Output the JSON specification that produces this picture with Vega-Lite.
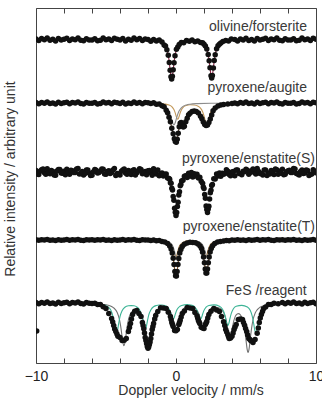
{
"$schema":"https://vega.github.io/schema/vega-lite/v6.json",
"width":280,"height":355,
"autosize":{"type":"none"},
"padding":{"left":36,"top":8,"right":6,"bottom":36},
"background":"white",
"config":{"view":{"stroke":"#444","strokeWidth":1},"axis":{"grid":false}},
"datasets":{
"dots":[
{"v":-10,"i":324.1},{"v":-9.8,"i":322.4},{"v":-9.6,"i":324.4},{"v":-9.4,"i":323.2},{"v":-9.2,"i":324.9},{"v":-9,"i":322.7},{"v":-8.8,"i":323.7},{"v":-8.6,"i":322.1},{"v":-8.4,"i":324.5},{"v":-8.2,"i":323},{"v":-8,"i":323.8},{"v":-7.8,"i":324.7},{"v":-7.6,"i":322.5},{"v":-7.4,"i":324},{"v":-7.2,"i":323.3},{"v":-7,"i":325},{"v":-6.8,"i":322.8},{"v":-6.6,"i":322.2},{"v":-6.4,"i":324.3},{"v":-6.2,"i":323.1},{"v":-6,"i":323.1},{"v":-5.8,"i":324.3},{"v":-5.6,"i":322.2},{"v":-5.4,"i":322.8},{"v":-5.2,"i":325},{"v":-5,"i":323.3},{"v":-4.8,"i":324},{"v":-4.6,"i":322.5},{"v":-4.4,"i":324.7},{"v":-4.2,"i":323.8},{"v":-4,"i":323},{"v":-3.8,"i":324.5},{"v":-3.6,"i":322.1},{"v":-3.4,"i":323.7},{"v":-3.2,"i":322.7},{"v":-3,"i":324.9},{"v":-2.8,"i":323.2},{"v":-2.6,"i":324.4},{"v":-2.4,"i":322.4},{"v":-2.2,"i":324},{"v":-2,"i":323.6},{"v":-1.8,"i":321.7},{"v":-1.6,"i":323.5},{"v":-1.4,"i":321.9},{"v":-1.2,"i":323},
{"v":-1,"i":320.9},{"v":-0.85,"i":318.1},{"v":-0.75,"i":317},{"v":-0.65,"i":313.3},{"v":-0.55,"i":307.7},{"v":-0.48,"i":300.6},{"v":-0.42,"i":292.7},{"v":-0.36,"i":286.3},{"v":-0.31,"i":284},{"v":-0.26,"i":286.7},{"v":-0.2,"i":293.2},{"v":-0.14,"i":300.3},{"v":-0.07,"i":307.3},{"v":0.03,"i":313.8},{"v":0.13,"i":316.1},{"v":0.23,"i":318.5},{"v":0.38,"i":320.6},{"v":0.55,"i":320.3},{"v":0.75,"i":322.4},{"v":0.95,"i":321.7},{"v":1.15,"i":322.9},{"v":1.35,"i":321.3},{"v":1.55,"i":322},{"v":1.75,"i":320.6},{"v":1.9,"i":320.3},{"v":2,"i":318.7},{"v":2.1,"i":317},{"v":2.2,"i":314},{"v":2.3,"i":308.5},{"v":2.37,"i":302.2},{"v":2.43,"i":295.2},{"v":2.5,"i":287.3},{"v":2.55,"i":285},{"v":2.6,"i":287.5},{"v":2.67,"i":295},{"v":2.73,"i":302.4},{"v":2.8,"i":308.3},{"v":2.9,"i":314.2},{"v":3,"i":317.3},{"v":3.1,"i":318.8},{"v":3.2,"i":320},{"v":3.35,"i":321.5},{"v":3.55,"i":322.5},{"v":3.75,"i":321.9},{"v":3.95,"i":323.9},
{"v":4.2,"i":323.6},{"v":4.4,"i":322},{"v":4.6,"i":324.1},{"v":4.8,"i":323},{"v":5,"i":324.7},{"v":5.2,"i":322.6},{"v":5.4,"i":323.6},{"v":5.6,"i":322.1},{"v":5.8,"i":324.5},{"v":6,"i":323},{"v":6.2,"i":323.8},{"v":6.4,"i":324.7},{"v":6.6,"i":322.5},{"v":6.8,"i":324},{"v":7,"i":323.3},{"v":7.2,"i":325},{"v":7.4,"i":322.8},{"v":7.6,"i":322.2},{"v":7.8,"i":324.3},{"v":8,"i":323.1},{"v":8.2,"i":323.1},{"v":8.4,"i":324.3},{"v":8.6,"i":322.2},{"v":8.8,"i":322.8},{"v":9,"i":325},{"v":9.2,"i":323.3},{"v":9.4,"i":324},{"v":9.6,"i":322.5},{"v":9.8,"i":324.7},{"v":10,"i":323.8},

{"v":-10,"i":260.4},{"v":-9.8,"i":259.2},{"v":-9.6,"i":260.6},{"v":-9.4,"i":259.8},{"v":-9.2,"i":261},{"v":-9,"i":259.4},{"v":-8.8,"i":260.1},{"v":-8.6,"i":259},{"v":-8.4,"i":260.7},{"v":-8.2,"i":259.6},{"v":-8,"i":260.2},{"v":-7.8,"i":260.8},{"v":-7.6,"i":259.3},{"v":-7.4,"i":260.4},{"v":-7.2,"i":259.9},{"v":-7,"i":261},{"v":-6.8,"i":259.5},{"v":-6.6,"i":259.1},{"v":-6.4,"i":260.6},{"v":-6.2,"i":259.7},{"v":-6,"i":259.7},{"v":-5.8,"i":260.6},{"v":-5.6,"i":259.1},{"v":-5.4,"i":259.5},{"v":-5.2,"i":261},{"v":-5,"i":259.9},{"v":-4.8,"i":260.4},{"v":-4.6,"i":259.3},{"v":-4.4,"i":260.8},{"v":-4.2,"i":260.2},{"v":-4,"i":259.6},{"v":-3.8,"i":260.7},{"v":-3.6,"i":259},{"v":-3.4,"i":260.1},{"v":-3.2,"i":259.4},{"v":-3,"i":261},{"v":-2.8,"i":259.8},{"v":-2.6,"i":260.6},{"v":-2.4,"i":259.2},{"v":-2.2,"i":260.4},{"v":-2,"i":260.2},{"v":-1.8,"i":259.4},{"v":-1.6,"i":260.3},
{"v":-1.4,"i":258.8},{"v":-1.2,"i":258.9},{"v":-1,"i":257.2},{"v":-0.85,"i":256.3},{"v":-0.7,"i":252.7},{"v":-0.6,"i":250.3},{"v":-0.5,"i":245.8},{"v":-0.4,"i":241.2},{"v":-0.3,"i":234.8},{"v":-0.2,"i":229.3},{"v":-0.12,"i":224.3},{"v":-0.05,"i":221.6},{"v":0.02,"i":220.8},{"v":0.09,"i":223.7},{"v":0.16,"i":229.8},{"v":0.23,"i":236.2},{"v":0.3,"i":239.8},{"v":0.37,"i":240.6},{"v":0.44,"i":237.8},{"v":0.52,"i":236.1},{"v":0.6,"i":236.8},{"v":0.7,"i":241.2},{"v":0.8,"i":244.8},{"v":0.9,"i":248.2},{"v":1,"i":249.8},{"v":1.15,"i":251.6},{"v":1.3,"i":251.9},{"v":1.45,"i":251.4},{"v":1.6,"i":250.1},{"v":1.75,"i":246.8},{"v":1.85,"i":244.2},{"v":1.95,"i":240.9},{"v":2.05,"i":238.6},{"v":2.15,"i":237.4},{"v":2.25,"i":238.1},{"v":2.35,"i":240.4},{"v":2.45,"i":244.1},{"v":2.55,"i":247.9},{"v":2.65,"i":252.2},{"v":2.8,"i":254.9},{"v":3,"i":257.1},{"v":3.2,"i":257.9},{"v":3.4,"i":258.6},{"v":3.7,"i":259.1},{"v":4,"i":259.5},
{"v":4.2,"i":260},{"v":4.4,"i":259.2},{"v":4.6,"i":260.6},{"v":4.8,"i":259.8},{"v":5,"i":261},{"v":5.2,"i":259.4},{"v":5.4,"i":260.1},{"v":5.6,"i":259},{"v":5.8,"i":260.7},{"v":6,"i":259.6},{"v":6.2,"i":260.2},{"v":6.4,"i":260.8},{"v":6.6,"i":259.3},{"v":6.8,"i":260.4},{"v":7,"i":259.9},{"v":7.2,"i":261},{"v":7.4,"i":259.5},{"v":7.6,"i":259.1},{"v":7.8,"i":260.6},{"v":8,"i":259.7},{"v":8.2,"i":259.7},{"v":8.4,"i":260.6},{"v":8.6,"i":259.1},{"v":8.8,"i":259.5},{"v":9,"i":261},{"v":9.2,"i":259.9},{"v":9.4,"i":260.4},{"v":9.6,"i":259.3},{"v":9.8,"i":260.8},{"v":10,"i":260.2},

{"v":-10,"i":192.5},{"v":-9.8,"i":188.4},{"v":-9.6,"i":193.2},{"v":-9.4,"i":190.2},{"v":-9.2,"i":194.2},{"v":-9,"i":189.2},{"v":-8.8,"i":191.5},{"v":-8.6,"i":187.7},{"v":-8.4,"i":193.4},{"v":-8.2,"i":189.9},{"v":-8,"i":191.8},{"v":-7.8,"i":193.8},{"v":-7.6,"i":188.7},{"v":-7.4,"i":192.2},{"v":-7.2,"i":190.5},{"v":-7,"i":194.5},{"v":-6.8,"i":189.4},{"v":-6.6,"i":188},{"v":-6.4,"i":192.9},{"v":-6.2,"i":190.1},
{"v":-6,"i":187.7},{"v":-5.8,"i":193.4},{"v":-5.6,"i":189.9},{"v":-5.4,"i":191.8},{"v":-5.2,"i":193.8},{"v":-5,"i":188.7},{"v":-4.8,"i":192.2},{"v":-4.6,"i":190.5},{"v":-4.4,"i":194.5},{"v":-4.2,"i":189.4},{"v":-4,"i":188},{"v":-3.8,"i":192.9},{"v":-3.6,"i":190.1},{"v":-3.4,"i":192.5},{"v":-3.2,"i":188.4},{"v":-3,"i":193.2},{"v":-2.8,"i":190.2},{"v":-2.6,"i":194.2},{"v":-2.4,"i":189.2},{"v":-2.2,"i":191.5},{"v":-2,"i":192.2},{"v":-1.8,"i":190.3},{"v":-1.6,"i":194.2},{"v":-1.4,"i":188.9},{"v":-1.2,"i":187.2},
{"v":-9.9,"i":189.1},{"v":-9.7,"i":191.7},{"v":-9.5,"i":193.9},{"v":-9.3,"i":188.8},{"v":-9.1,"i":190.6},{"v":-8.9,"i":192.6},{"v":-8.7,"i":187.9},{"v":-8.5,"i":191.9},{"v":-8.3,"i":193.5},{"v":-8.1,"i":189.7},{"v":-7.9,"i":188.3},{"v":-7.7,"i":191.3},{"v":-7.5,"i":192.8},{"v":-7.3,"i":190.4},{"v":-7.1,"i":194},{"v":-6.9,"i":189},{"v":-6.7,"i":191.6},{"v":-6.5,"i":189.5},{"v":-6.3,"i":193.1},{"v":-6.1,"i":187.6},
{"v":-5.9,"i":191.3},{"v":-5.7,"i":192.8},{"v":-5.5,"i":190.4},{"v":-5.3,"i":194},{"v":-5.1,"i":189},{"v":-4.9,"i":191.6},{"v":-4.7,"i":189.5},{"v":-4.5,"i":193.1},{"v":-4.3,"i":187.6},{"v":-4.1,"i":189.1},{"v":-3.9,"i":191.7},{"v":-3.7,"i":193.9},{"v":-3.5,"i":188.8},{"v":-3.3,"i":190.6},{"v":-3.1,"i":192.6},{"v":-2.9,"i":187.9},{"v":-2.7,"i":191.9},{"v":-2.5,"i":193.5},{"v":-2.3,"i":189.7},{"v":-2.1,"i":188.3},{"v":-1.9,"i":192.6},{"v":-1.7,"i":187.7},{"v":-1.5,"i":191.5},{"v":-1.3,"i":192.9},{"v":-1.1,"i":188.7},
{"v":-1,"i":189.9},{"v":-0.9,"i":187.1},{"v":-0.8,"i":188.8},{"v":-0.7,"i":189.1},{"v":-0.6,"i":184.9},{"v":-0.5,"i":184.5},{"v":-0.45,"i":183.7},{"v":-0.4,"i":180.3},{"v":-0.35,"i":179.7},{"v":-0.3,"i":174.8},{"v":-0.25,"i":172.9},{"v":-0.2,"i":166.6},{"v":-0.15,"i":162.7},{"v":-0.1,"i":154.8},{"v":-0.05,"i":150.8},{"v":0,"i":147.5},{"v":0.05,"i":150.5},{"v":0.1,"i":156.6},{"v":0.15,"i":160.7},{"v":0.2,"i":167.9},{"v":0.25,"i":171.3},{"v":0.3,"i":177.3},{"v":0.35,"i":178.4},{"v":0.4,"i":181.9},{"v":0.5,"i":182.7},{"v":0.6,"i":186.7},{"v":0.7,"i":187.3},{"v":0.8,"i":185.6},{"v":0.9,"i":189.8},{"v":1,"i":187.1},{"v":1.1,"i":190.5},{"v":1.2,"i":186.1},{"v":1.3,"i":189.3},{"v":1.4,"i":186.9},{"v":1.5,"i":188.7},{"v":1.6,"i":184.9},{"v":1.7,"i":185.7},{"v":1.8,"i":181.7},{"v":1.9,"i":179.8},{"v":1.95,"i":176},{"v":2,"i":174.4},{"v":2.05,"i":168.6},{"v":2.1,"i":164.7},{"v":2.15,"i":157},{"v":2.2,"i":153.5},{"v":2.25,"i":150.6},{"v":2.3,"i":153.9},{"v":2.35,"i":156.7},{"v":2.4,"i":164.1},{"v":2.45,"i":170.3},{"v":2.5,"i":172.7},{"v":2.55,"i":177.6},{"v":2.6,"i":178.4},{"v":2.7,"i":184.3},{"v":2.8,"i":183.9},{"v":2.9,"i":188.9},{"v":3,"i":186.9},{"v":3.1,"i":189.9},{"v":3.2,"i":186.8},{"v":3.3,"i":189.8},
{"v":3.4,"i":188.8},{"v":3.6,"i":193.2},{"v":3.8,"i":188.4},{"v":4,"i":190.9},{"v":4.2,"i":187.2},{"v":4.4,"i":193},{"v":4.6,"i":189.6},{"v":4.8,"i":191.8},{"v":5,"i":193.8},{"v":5.2,"i":188.7},{"v":5.4,"i":192.2},{"v":5.6,"i":190.5},{"v":5.8,"i":194.5},{"v":6,"i":189.4},{"v":6.2,"i":188},{"v":6.4,"i":192.9},{"v":6.6,"i":190.1},{"v":6.8,"i":192.5},{"v":7,"i":188.4},{"v":7.2,"i":193.2},{"v":7.4,"i":191.8},{"v":7.6,"i":193.8},{"v":7.8,"i":188.7},{"v":8,"i":192.2},{"v":8.2,"i":190.5},{"v":8.4,"i":194.5},{"v":8.6,"i":189.4},{"v":8.8,"i":188},{"v":9,"i":192.9},{"v":9.2,"i":190.1},{"v":9.4,"i":192.5},{"v":9.6,"i":188.4},{"v":9.8,"i":193.2},{"v":10,"i":190.2},
{"v":3.5,"i":189.4},{"v":3.7,"i":191.7},{"v":3.9,"i":187.2},{"v":4.1,"i":191.4},{"v":4.3,"i":193.1},{"v":4.5,"i":189.4},{"v":4.7,"i":188.3},{"v":4.9,"i":191.3},{"v":5.1,"i":192.8},{"v":5.3,"i":190.4},{"v":5.5,"i":194},{"v":5.7,"i":189},{"v":5.9,"i":191.6},{"v":6.1,"i":189.5},{"v":6.3,"i":193.1},{"v":6.5,"i":187.6},{"v":6.7,"i":189.1},{"v":6.9,"i":191.7},{"v":7.1,"i":193.9},{"v":7.3,"i":188.8},{"v":7.5,"i":189.7},{"v":7.7,"i":188.3},{"v":7.9,"i":191.3},{"v":8.1,"i":192.8},{"v":8.3,"i":190.4},{"v":8.5,"i":194},{"v":8.7,"i":189},{"v":8.9,"i":191.6},{"v":9.1,"i":189.5},{"v":9.3,"i":193.1},{"v":9.5,"i":187.6},{"v":9.7,"i":189.1},{"v":9.9,"i":191.7},

{"v":-10,"i":123.2},{"v":-9.8,"i":122.7},{"v":-9.6,"i":123.3},{"v":-9.4,"i":122.9},{"v":-9.2,"i":123.4},{"v":-9,"i":122.8},{"v":-8.8,"i":123.1},{"v":-8.6,"i":122.6},{"v":-8.4,"i":123.3},{"v":-8.2,"i":122.8},{"v":-8,"i":123.1},{"v":-7.8,"i":123.4},{"v":-7.6,"i":122.7},{"v":-7.4,"i":123.2},{"v":-7.2,"i":122.9},{"v":-7,"i":123.5},{"v":-6.8,"i":122.8},{"v":-6.6,"i":122.6},{"v":-6.4,"i":123.2},{"v":-6.2,"i":122.9},{"v":-6,"i":123.2},{"v":-5.8,"i":122.7},{"v":-5.6,"i":123.3},{"v":-5.4,"i":122.9},{"v":-5.2,"i":123.4},{"v":-5,"i":122.8},{"v":-4.8,"i":123.1},{"v":-4.6,"i":122.6},{"v":-4.4,"i":123.3},{"v":-4.2,"i":122.8},{"v":-4,"i":123.1},{"v":-3.8,"i":123.4},{"v":-3.6,"i":122.7},{"v":-3.4,"i":123.2},{"v":-3.2,"i":122.9},{"v":-3,"i":123.5},{"v":-2.8,"i":122.8},{"v":-2.6,"i":122.6},{"v":-2.4,"i":123.2},{"v":-2.2,"i":122.9},{"v":-2,"i":123},{"v":-1.8,"i":122.5},{"v":-1.6,"i":122.9},{"v":-1.4,"i":122.3},{"v":-1.2,"i":122.4},
{"v":-1,"i":121.5},{"v":-0.8,"i":120.9},{"v":-0.6,"i":119.4},{"v":-0.45,"i":117},{"v":-0.35,"i":114},{"v":-0.27,"i":110.1},{"v":-0.2,"i":104.7},{"v":-0.14,"i":98.5},{"v":-0.08,"i":91.5},{"v":-0.03,"i":87.3},{"v":0.03,"i":87},{"v":0.08,"i":91.5},{"v":0.14,"i":98.5},{"v":0.2,"i":104.6},{"v":0.27,"i":110},{"v":0.35,"i":113.6},{"v":0.45,"i":116.5},{"v":0.6,"i":118.8},{"v":0.8,"i":120.1},{"v":1,"i":120.7},{"v":1.2,"i":120.6},{"v":1.4,"i":120.2},{"v":1.57,"i":119},{"v":1.72,"i":117},{"v":1.82,"i":114.4},{"v":1.9,"i":110.8},{"v":1.97,"i":106},{"v":2.03,"i":100.2},{"v":2.09,"i":93.9},{"v":2.14,"i":90},{"v":2.2,"i":90},{"v":2.25,"i":93.9},{"v":2.31,"i":100.3},{"v":2.37,"i":106.1},{"v":2.44,"i":110.9},{"v":2.52,"i":114.6},{"v":2.62,"i":117.3},{"v":2.77,"i":119.5},{"v":2.97,"i":120.9},{"v":3.17,"i":121.6},{"v":3.4,"i":122},
{"v":3.6,"i":122.6},{"v":3.8,"i":122.3},{"v":4,"i":123},{"v":4.2,"i":122.7},{"v":4.4,"i":123.2},{"v":4.6,"i":122.8},{"v":4.8,"i":123.1},{"v":5,"i":122.6},{"v":5.2,"i":123.3},{"v":5.4,"i":122.8},{"v":5.6,"i":123.1},{"v":5.8,"i":123.4},{"v":6,"i":122.7},{"v":6.2,"i":123.2},{"v":6.4,"i":122.9},{"v":6.6,"i":123.5},{"v":6.8,"i":122.8},{"v":7,"i":122.6},{"v":7.2,"i":123.2},{"v":7.4,"i":122.9},{"v":7.6,"i":123.2},{"v":7.8,"i":122.7},{"v":8,"i":123.3},{"v":8.2,"i":122.9},{"v":8.4,"i":123.4},{"v":8.6,"i":122.8},{"v":8.8,"i":123.1},{"v":9,"i":122.6},{"v":9.2,"i":123.3},{"v":9.4,"i":122.8},{"v":9.6,"i":123.1},{"v":9.8,"i":123.4},{"v":10,"i":122.7},

{"v":-9.95,"i":32},
{"v":-10,"i":60.4},{"v":-9.8,"i":59.2},{"v":-9.6,"i":60.6},{"v":-9.4,"i":59.8},{"v":-9.2,"i":61},{"v":-9,"i":59.4},{"v":-8.8,"i":60.1},{"v":-8.6,"i":59},{"v":-8.4,"i":60.7},{"v":-8.2,"i":59.6},{"v":-8,"i":60.2},{"v":-7.8,"i":60.8},{"v":-7.6,"i":59.3},{"v":-7.4,"i":60.4},{"v":-7.2,"i":59.9},{"v":-7,"i":61},{"v":-6.8,"i":59.5},{"v":-6.6,"i":59.1},{"v":-6.4,"i":60.6},{"v":-6.2,"i":59.7},{"v":-6,"i":59.6},
{"v":-5.8,"i":59.8},{"v":-5.6,"i":58.6},{"v":-5.4,"i":58.5},{"v":-5.2,"i":56.2},{"v":-5,"i":54.6},{"v":-4.8,"i":49.5},{"v":-4.6,"i":44.4},{"v":-4.52,"i":41},{"v":-4.45,"i":37.4},{"v":-4.38,"i":34},{"v":-4.3,"i":31.5},{"v":-4.22,"i":29},{"v":-4.15,"i":26.7},{"v":-4,"i":25.6},{"v":-3.85,"i":22.5},{"v":-3.7,"i":22.8},{"v":-3.55,"i":24.4},{"v":-3.4,"i":31.5},{"v":-3.32,"i":35.5},{"v":-3.25,"i":39.6},{"v":-3.18,"i":44},{"v":-3.1,"i":48.6},{"v":-2.95,"i":51.7},{"v":-2.8,"i":52.5},{"v":-2.65,"i":49.4},{"v":-2.5,"i":46.4},{"v":-2.4,"i":40.5},{"v":-2.35,"i":37.5},{"v":-2.3,"i":34.3},{"v":-2.25,"i":30},{"v":-2.2,"i":25.6},{"v":-2.15,"i":22.5},{"v":-2.1,"i":19.5},{"v":-2.05,"i":16.5},{"v":-2,"i":14.7},{"v":-1.95,"i":16},{"v":-1.9,"i":18.4},{"v":-1.85,"i":21},{"v":-1.8,"i":24.5},{"v":-1.75,"i":29},{"v":-1.7,"i":33.6},{"v":-1.65,"i":36.5},{"v":-1.6,"i":39.6},{"v":-1.52,"i":44},{"v":-1.45,"i":47.5},{"v":-1.3,"i":51.4},{"v":-1.1,"i":55.3},{"v":-0.9,"i":55},{"v":-0.7,"i":54.6},{"v":-0.55,"i":50.7},{"v":-0.4,"i":46.4},{"v":-0.35,"i":43.5},{"v":-0.3,"i":40.5},{"v":-0.25,"i":38.5},{"v":-0.2,"i":36.5},{"v":-0.1,"i":32.6},{"v":0,"i":32.3},{"v":0.1,"i":33.5},{"v":0.2,"i":38.4},{"v":0.25,"i":40.5},{"v":0.3,"i":42.7},{"v":0.37,"i":46},{"v":0.45,"i":49.6},{"v":0.6,"i":52.1},{"v":0.8,"i":55.5},{"v":1,"i":54.9},{"v":1.2,"i":54.4},{"v":1.35,"i":50.5},{"v":1.5,"i":47.3},{"v":1.55,"i":45},{"v":1.6,"i":42.6},{"v":1.65,"i":41},{"v":1.7,"i":39.5},{"v":1.8,"i":35.7},{"v":1.9,"i":34.9},{"v":2,"i":34.5},{"v":2.1,"i":38.6},{"v":2.15,"i":40},{"v":2.2,"i":41.6},{"v":2.27,"i":45},{"v":2.35,"i":48.5},{"v":2.5,"i":51.7},{"v":2.7,"i":54.4},{"v":2.9,"i":52.9},{"v":3.1,"i":51.5},{"v":3.25,"i":46.6},{"v":3.4,"i":41.3},{"v":3.48,"i":37.5},{"v":3.55,"i":33.5},{"v":3.62,"i":31},{"v":3.7,"i":28.6},{"v":3.75,"i":26.5},{"v":3.8,"i":24.6},{"v":3.9,"i":25},{"v":4,"i":26.7},{"v":4.08,"i":30},{"v":4.15,"i":33.4},{"v":4.22,"i":36},{"v":4.3,"i":38.5},{"v":4.45,"i":43.6},{"v":4.6,"i":44.1},{"v":4.75,"i":43.5},{"v":4.82,"i":40.5},{"v":4.9,"i":37.7},{"v":4.97,"i":34.5},{"v":5.05,"i":31.4},{"v":5.12,"i":28},{"v":5.2,"i":24.5},{"v":5.28,"i":23.5},{"v":5.35,"i":22.3},{"v":5.5,"i":20.6},{"v":5.65,"i":23.5},{"v":5.8,"i":29.7},{"v":5.88,"i":35},{"v":5.95,"i":40.6},{"v":6.02,"i":45},{"v":6.1,"i":48.6},{"v":6.18,"i":51.5},{"v":6.25,"i":54.3},{"v":6.4,"i":56},{"v":6.6,"i":58.4},{"v":6.8,"i":58.5},{"v":7,"i":59.8},{"v":7.3,"i":59.3},
{"v":7.6,"i":60.4},{"v":7.8,"i":59.2},{"v":8,"i":60.6},{"v":8.2,"i":59.8},{"v":8.4,"i":61},{"v":8.6,"i":59.4},{"v":8.8,"i":60.1},{"v":9,"i":59},{"v":9.2,"i":60.7},{"v":9.4,"i":59.6},{"v":9.6,"i":60.2},{"v":9.8,"i":60.8},{"v":10,"i":59.3}
],
"fits":[
{"k":"ol","v":-10,"i":323.5},{"k":"ol","v":-2,"i":323},{"k":"ol","v":-1.2,"i":321.6},{"k":"ol","v":-1,"i":320.4},{"k":"ol","v":-0.85,"i":318.7},{"k":"ol","v":-0.75,"i":316.7},{"k":"ol","v":-0.65,"i":313.3},{"k":"ol","v":-0.55,"i":307.3},{"k":"ol","v":-0.48,"i":300.6},{"k":"ol","v":-0.42,"i":293.2},{"k":"ol","v":-0.36,"i":286.3},{"k":"ol","v":-0.31,"i":284},{"k":"ol","v":-0.26,"i":286.3},{"k":"ol","v":-0.2,"i":293.2},{"k":"ol","v":-0.14,"i":300.6},{"k":"ol","v":-0.07,"i":307.3},{"k":"ol","v":0.03,"i":313.3},{"k":"ol","v":0.13,"i":316.7},{"k":"ol","v":0.23,"i":318.7},{"k":"ol","v":0.38,"i":320.1},{"k":"ol","v":0.55,"i":321.1},{"k":"ol","v":0.75,"i":321.7},{"k":"ol","v":0.95,"i":321.9},{"k":"ol","v":1.15,"i":322},{"k":"ol","v":1.35,"i":321.9},{"k":"ol","v":1.55,"i":321.6},{"k":"ol","v":1.75,"i":320.9},{"k":"ol","v":1.9,"i":319.9},{"k":"ol","v":2,"i":318.7},{"k":"ol","v":2.1,"i":316.9},{"k":"ol","v":2.2,"i":313.7},{"k":"ol","v":2.3,"i":308.5},{"k":"ol","v":2.37,"i":302.2},{"k":"ol","v":2.43,"i":295.2},{"k":"ol","v":2.5,"i":287.3},{"k":"ol","v":2.55,"i":285},{"k":"ol","v":2.6,"i":287.3},{"k":"ol","v":2.67,"i":295.2},{"k":"ol","v":2.73,"i":302.2},{"k":"ol","v":2.8,"i":308.5},{"k":"ol","v":2.9,"i":314},{"k":"ol","v":3,"i":317.2},{"k":"ol","v":3.1,"i":318.9},{"k":"ol","v":3.2,"i":320.2},{"k":"ol","v":3.35,"i":321.2},{"k":"ol","v":3.55,"i":322},{"k":"ol","v":3.75,"i":322.5},{"k":"ol","v":3.95,"i":322.7},{"k":"ol","v":5,"i":323.2},{"k":"ol","v":10,"i":323.5},

{"k":"au","v":-10,"i":260},{"k":"au","v":-1.6,"i":259.5},{"k":"au","v":-1.4,"i":259},{"k":"au","v":-1.2,"i":258.5},{"k":"au","v":-1,"i":257.5},{"k":"au","v":-0.85,"i":256},{"k":"au","v":-0.7,"i":253},{"k":"au","v":-0.6,"i":250},{"k":"au","v":-0.5,"i":246},{"k":"au","v":-0.4,"i":241},{"k":"au","v":-0.3,"i":235},{"k":"au","v":-0.2,"i":229},{"k":"au","v":-0.12,"i":224.5},{"k":"au","v":-0.05,"i":221.5},{"k":"au","v":0.02,"i":221},{"k":"au","v":0.09,"i":223.5},{"k":"au","v":0.16,"i":230},{"k":"au","v":0.23,"i":236},{"k":"au","v":0.3,"i":240},{"k":"au","v":0.37,"i":240.5},{"k":"au","v":0.44,"i":238},{"k":"au","v":0.52,"i":236},{"k":"au","v":0.6,"i":237},{"k":"au","v":0.7,"i":241},{"k":"au","v":0.8,"i":245},{"k":"au","v":0.9,"i":248},{"k":"au","v":1,"i":250},{"k":"au","v":1.15,"i":251.5},{"k":"au","v":1.3,"i":252},{"k":"au","v":1.45,"i":251.5},{"k":"au","v":1.6,"i":250},{"k":"au","v":1.75,"i":247},{"k":"au","v":1.85,"i":244},{"k":"au","v":1.95,"i":241},{"k":"au","v":2.05,"i":238.5},{"k":"au","v":2.15,"i":237.5},{"k":"au","v":2.25,"i":238},{"k":"au","v":2.35,"i":240.5},{"k":"au","v":2.45,"i":244},{"k":"au","v":2.55,"i":248},{"k":"au","v":2.65,"i":252},{"k":"au","v":2.8,"i":255},{"k":"au","v":3,"i":257},{"k":"au","v":3.2,"i":258},{"k":"au","v":3.4,"i":258.4},{"k":"au","v":3.7,"i":258.9},{"k":"au","v":4,"i":259.3},{"k":"au","v":5,"i":259.7},{"k":"au","v":10,"i":260},

{"k":"aA","v":-10,"i":260},{"k":"aA","v":-2,"i":259.8},{"k":"aA","v":-1.2,"i":259.5},{"k":"aA","v":-0.8,"i":259},{"k":"aA","v":-0.5,"i":258},{"k":"aA","v":-0.3,"i":256.4},{"k":"aA","v":-0.15,"i":253.4},{"k":"aA","v":-0.05,"i":249.8},{"k":"aA","v":0.02,"i":246.5},{"k":"aA","v":0.07,"i":244.6},{"k":"aA","v":0.12,"i":243.8},{"k":"aA","v":0.17,"i":244.6},{"k":"aA","v":0.22,"i":246.5},{"k":"aA","v":0.29,"i":249.7},{"k":"aA","v":0.39,"i":253.3},{"k":"aA","v":0.54,"i":256.1},{"k":"aA","v":0.74,"i":257.6},{"k":"aA","v":1,"i":258.2},{"k":"aA","v":1.3,"i":258},{"k":"aA","v":1.55,"i":256.9},{"k":"aA","v":1.75,"i":254.8},{"k":"aA","v":1.9,"i":251.2},{"k":"aA","v":2,"i":247},{"k":"aA","v":2.1,"i":241.7},{"k":"aA","v":2.2,"i":238.8},{"k":"aA","v":2.3,"i":241.7},{"k":"aA","v":2.4,"i":247},{"k":"aA","v":2.5,"i":251.2},{"k":"aA","v":2.65,"i":254.9},{"k":"aA","v":2.85,"i":257.2},{"k":"aA","v":3.1,"i":258.4},{"k":"aA","v":3.5,"i":259.2},{"k":"aA","v":4.5,"i":259.7},{"k":"aA","v":10,"i":260},

{"k":"aB","v":-10,"i":260},{"k":"aB","v":-2,"i":259.5},{"k":"aB","v":-1.2,"i":258.5},{"k":"aB","v":-0.8,"i":256.6},{"k":"aB","v":-0.55,"i":252.8},{"k":"aB","v":-0.4,"i":247.8},{"k":"aB","v":-0.25,"i":240.5},{"k":"aB","v":-0.15,"i":238},{"k":"aB","v":-0.05,"i":240.5},{"k":"aB","v":0.07,"i":246.4},{"k":"aB","v":0.2,"i":251.4},{"k":"aB","v":0.35,"i":254.7},{"k":"aB","v":0.5,"i":256.6},{"k":"aB","v":0.75,"i":258.1},{"k":"aB","v":1,"i":258.8},{"k":"aB","v":1.5,"i":259.4},{"k":"aB","v":2.5,"i":259.8},{"k":"aB","v":10,"i":260},

{"k":"tT","v":-10,"i":123},{"k":"tT","v":-1.2,"i":122.3},{"k":"tT","v":-1,"i":121.5},{"k":"tT","v":-0.8,"i":120.8},{"k":"tT","v":-0.6,"i":119.35},{"k":"tT","v":-0.45,"i":117},{"k":"tT","v":-0.35,"i":114},{"k":"tT","v":-0.27,"i":110.1},{"k":"tT","v":-0.2,"i":104.7},{"k":"tT","v":-0.14,"i":98.5},{"k":"tT","v":-0.08,"i":91.5},{"k":"tT","v":-0.03,"i":87.3},{"k":"tT","v":0.03,"i":87.3},{"k":"tT","v":0.08,"i":91.5},{"k":"tT","v":0.14,"i":98.5},{"k":"tT","v":0.2,"i":104.7},{"k":"tT","v":0.27,"i":110.1},{"k":"tT","v":0.35,"i":113.6},{"k":"tT","v":0.45,"i":116.5},{"k":"tT","v":0.6,"i":118.75},{"k":"tT","v":0.8,"i":120.1},{"k":"tT","v":1,"i":120.65},{"k":"tT","v":1.2,"i":120.6},{"k":"tT","v":1.4,"i":120.15},{"k":"tT","v":1.57,"i":119.05},{"k":"tT","v":1.72,"i":117},{"k":"tT","v":1.82,"i":114.4},{"k":"tT","v":1.9,"i":110.8},{"k":"tT","v":1.97,"i":106},{"k":"tT","v":2.03,"i":100.2},{"k":"tT","v":2.09,"i":93.9},{"k":"tT","v":2.14,"i":90},{"k":"tT","v":2.2,"i":90},{"k":"tT","v":2.25,"i":93.9},{"k":"tT","v":2.31,"i":100.3},{"k":"tT","v":2.37,"i":106.1},{"k":"tT","v":2.44,"i":110.9},{"k":"tT","v":2.52,"i":114.6},{"k":"tT","v":2.62,"i":117.3},{"k":"tT","v":2.77,"i":119.5},{"k":"tT","v":2.97,"i":120.9},{"k":"tT","v":3.17,"i":121.6},{"k":"tT","v":3.4,"i":122},{"k":"tT","v":4,"i":122.6},{"k":"tT","v":10,"i":123},

{"k":"tA","v":-10,"i":123},{"k":"tA","v":-1,"i":122.2},{"k":"tA","v":-0.6,"i":120.85},{"k":"tA","v":-0.4,"i":118.5},{"k":"tA","v":-0.29,"i":115.6},{"k":"tA","v":-0.19,"i":110.8},{"k":"tA","v":-0.09,"i":105.1},{"k":"tA","v":-0.04,"i":104},{"k":"tA","v":0.01,"i":105.1},{"k":"tA","v":0.11,"i":110.8},{"k":"tA","v":0.21,"i":115.6},{"k":"tA","v":0.32,"i":118.5},{"k":"tA","v":0.52,"i":120.85},{"k":"tA","v":0.9,"i":122.2},{"k":"tA","v":1.4,"i":121.6},{"k":"tA","v":1.57,"i":120.8},{"k":"tA","v":1.77,"i":119},{"k":"tA","v":1.88,"i":116.4},{"k":"tA","v":1.98,"i":112.1},{"k":"tA","v":2.08,"i":107},{"k":"tA","v":2.13,"i":106},{"k":"tA","v":2.18,"i":107},{"k":"tA","v":2.28,"i":112.1},{"k":"tA","v":2.38,"i":116.4},{"k":"tA","v":2.49,"i":119},{"k":"tA","v":2.69,"i":121.1},{"k":"tA","v":3.1,"i":122.3},{"k":"tA","v":4,"i":122.8},{"k":"tA","v":10,"i":123},

{"k":"tB","v":-10,"i":123},{"k":"tB","v":-0.9,"i":122.3},{"k":"tB","v":-0.5,"i":120.9},{"k":"tB","v":-0.3,"i":118.6},{"k":"tB","v":-0.2,"i":116},{"k":"tB","v":-0.1,"i":111.5},{"k":"tB","v":0,"i":106.1},{"k":"tB","v":0.05,"i":105},{"k":"tB","v":0.1,"i":106.1},{"k":"tB","v":0.2,"i":111.5},{"k":"tB","v":0.3,"i":116},{"k":"tB","v":0.4,"i":118.6},{"k":"tB","v":0.6,"i":120.9},{"k":"tB","v":1,"i":121.9},{"k":"tB","v":1.5,"i":121.6},{"k":"tB","v":1.67,"i":120.9},{"k":"tB","v":1.87,"i":118.8},{"k":"tB","v":1.97,"i":116.4},{"k":"tB","v":2.07,"i":112.1},{"k":"tB","v":2.17,"i":107},{"k":"tB","v":2.22,"i":106},{"k":"tB","v":2.27,"i":107},{"k":"tB","v":2.37,"i":112.1},{"k":"tB","v":2.47,"i":116.4},{"k":"tB","v":2.57,"i":118.8},{"k":"tB","v":2.77,"i":121},{"k":"tB","v":3.2,"i":122.3},{"k":"tB","v":4,"i":122.8},{"k":"tB","v":10,"i":123},

{"k":"fG","v":-10,"i":59.9},{"k":"fG","v":-6,"i":59.2},{"k":"fG","v":-5,"i":58.2},{"k":"fG","v":-4.6,"i":56.5},{"k":"fG","v":-4.4,"i":54.5},{"k":"fG","v":-4.2,"i":50.5},{"k":"fG","v":-4.05,"i":44.1},{"k":"fG","v":-3.95,"i":36.6},{"k":"fG","v":-3.85,"i":26.2},{"k":"fG","v":-3.78,"i":19.6},{"k":"fG","v":-3.72,"i":17.3},{"k":"fG","v":-3.66,"i":19.5},{"k":"fG","v":-3.59,"i":26},{"k":"fG","v":-3.49,"i":36.2},{"k":"fG","v":-3.39,"i":43.6},{"k":"fG","v":-3.2,"i":50.3},{"k":"fG","v":-3,"i":52.6},{"k":"fG","v":-2.8,"i":52.9},{"k":"fG","v":-2.6,"i":51.2},{"k":"fG","v":-2.45,"i":47.7},{"k":"fG","v":-2.35,"i":43.4},{"k":"fG","v":-2.25,"i":36.4},{"k":"fG","v":-2.15,"i":26.1},{"k":"fG","v":-2.07,"i":17.7},{"k":"fG","v":-2,"i":14.5},{"k":"fG","v":-1.93,"i":17.7},{"k":"fG","v":-1.85,"i":26.3},{"k":"fG","v":-1.75,"i":36.6},{"k":"fG","v":-1.65,"i":43.7},{"k":"fG","v":-1.55,"i":48.2},{"k":"fG","v":-1.4,"i":52.1},{"k":"fG","v":-1.2,"i":54.5},{"k":"fG","v":-1,"i":55.5},{"k":"fG","v":-0.8,"i":55.5},{"k":"fG","v":-0.6,"i":54.4},{"k":"fG","v":-0.45,"i":52.4},{"k":"fG","v":-0.35,"i":49.8},{"k":"fG","v":-0.25,"i":45.6},{"k":"fG","v":-0.15,"i":39.6},{"k":"fG","v":-0.07,"i":34.6},{"k":"fG","v":0,"i":32.7},{"k":"fG","v":0.07,"i":34.6},{"k":"fG","v":0.15,"i":39.5},{"k":"fG","v":0.25,"i":45.6},{"k":"fG","v":0.35,"i":49.7},{"k":"fG","v":0.45,"i":52.5},{"k":"fG","v":0.6,"i":55},{"k":"fG","v":0.8,"i":56.3},{"k":"fG","v":1,"i":56.3},{"k":"fG","v":1.2,"i":56},{"k":"fG","v":1.35,"i":54.9},{"k":"fG","v":1.48,"i":53},{"k":"fG","v":1.58,"i":50.7},{"k":"fG","v":1.68,"i":46.8},{"k":"fG","v":1.78,"i":41.2},{"k":"fG","v":1.86,"i":36.5},{"k":"fG","v":1.93,"i":34.7},{"k":"fG","v":2,"i":36.5},{"k":"fG","v":2.08,"i":41},{"k":"fG","v":2.18,"i":46.5},{"k":"fG","v":2.28,"i":50.3},{"k":"fG","v":2.38,"i":52.6},{"k":"fG","v":2.55,"i":55.1},{"k":"fG","v":2.75,"i":56.1},{"k":"fG","v":2.95,"i":55.3},{"k":"fG","v":3.15,"i":54.6},{"k":"fG","v":3.3,"i":52.7},{"k":"fG","v":3.4,"i":50.5},{"k":"fG","v":3.5,"i":47.1},{"k":"fG","v":3.6,"i":41.7},{"k":"fG","v":3.7,"i":33.8},{"k":"fG","v":3.78,"i":27.4},{"k":"fG","v":3.85,"i":24.9},{"k":"fG","v":3.92,"i":27.1},{"k":"fG","v":4,"i":33.1},{"k":"fG","v":4.1,"i":40.5},{"k":"fG","v":4.2,"i":45.4},{"k":"fG","v":4.3,"i":48.1},{"k":"fG","v":4.45,"i":49.4},{"k":"fG","v":4.6,"i":48.2},{"k":"fG","v":4.75,"i":43.8},{"k":"fG","v":4.9,"i":33.9},{"k":"fG","v":5,"i":22.9},{"k":"fG","v":5.08,"i":13.9},{"k":"fG","v":5.15,"i":10.5},{"k":"fG","v":5.22,"i":14.1},{"k":"fG","v":5.3,"i":23.5},{"k":"fG","v":5.4,"i":34.9},{"k":"fG","v":5.5,"i":43},{"k":"fG","v":5.65,"i":49.7},{"k":"fG","v":5.8,"i":53.2},{"k":"fG","v":6,"i":55.7},{"k":"fG","v":6.5,"i":58.1},{"k":"fG","v":7.5,"i":59.5},{"k":"fG","v":10,"i":59.9},

{"k":"fN","v":-10,"i":60},{"k":"fN","v":-6,"i":59.5},{"k":"fN","v":-5.2,"i":58.3},{"k":"fN","v":-4.85,"i":56.2},{"k":"fN","v":-4.65,"i":52.7},{"k":"fN","v":-4.5,"i":46.5},{"k":"fN","v":-4.4,"i":39.1},{"k":"fN","v":-4.32,"i":32.4},{"k":"fN","v":-4.25,"i":29.5},{"k":"fN","v":-4.18,"i":32.3},{"k":"fN","v":-4.1,"i":39},{"k":"fN","v":-4,"i":46.3},{"k":"fN","v":-3.85,"i":52.3},{"k":"fN","v":-3.65,"i":55.8},{"k":"fN","v":-3.4,"i":57.2},{"k":"fN","v":-3.2,"i":57.4},{"k":"fN","v":-3,"i":57.2},{"k":"fN","v":-2.8,"i":56},{"k":"fN","v":-2.6,"i":53.1},{"k":"fN","v":-2.45,"i":47.9},{"k":"fN","v":-2.35,"i":41.5},{"k":"fN","v":-2.27,"i":35.6},{"k":"fN","v":-2.2,"i":33.2},{"k":"fN","v":-2.13,"i":35.6},{"k":"fN","v":-2.05,"i":41.4},{"k":"fN","v":-1.95,"i":47.9},{"k":"fN","v":-1.8,"i":53.1},{"k":"fN","v":-1.6,"i":56.3},{"k":"fN","v":-1.4,"i":57.5},{"k":"fN","v":-1.2,"i":58},{"k":"fN","v":-1,"i":58},{"k":"fN","v":-0.8,"i":57.4},{"k":"fN","v":-0.6,"i":55.8},{"k":"fN","v":-0.45,"i":52.6},{"k":"fN","v":-0.35,"i":48.8},{"k":"fN","v":-0.27,"i":45.2},{"k":"fN","v":-0.2,"i":43.7},{"k":"fN","v":-0.13,"i":45.2},{"k":"fN","v":-0.05,"i":48.8},{"k":"fN","v":0.05,"i":52.7},{"k":"fN","v":0.2,"i":55.75},{"k":"fN","v":0.4,"i":57.45},{"k":"fN","v":0.78,"i":58.35},{"k":"fN","v":1.15,"i":57.6},{"k":"fN","v":1.35,"i":56},{"k":"fN","v":1.5,"i":52.75},{"k":"fN","v":1.6,"i":48.8},{"k":"fN","v":1.68,"i":45.2},{"k":"fN","v":1.75,"i":43.7},{"k":"fN","v":1.82,"i":45.15},{"k":"fN","v":1.9,"i":48.75},{"k":"fN","v":2,"i":52.6},{"k":"fN","v":2.15,"i":55.85},{"k":"fN","v":2.35,"i":57.5},{"k":"fN","v":2.72,"i":58.1},{"k":"fN","v":3.1,"i":56.7},{"k":"fN","v":3.3,"i":54.2},{"k":"fN","v":3.45,"i":49.9},{"k":"fN","v":3.55,"i":44.45},{"k":"fN","v":3.63,"i":39.4},{"k":"fN","v":3.7,"i":37.35},{"k":"fN","v":3.77,"i":39.3},{"k":"fN","v":3.85,"i":44.25},{"k":"fN","v":3.95,"i":49.6},{"k":"fN","v":4.1,"i":54.3},{"k":"fN","v":4.3,"i":56.7},{"k":"fN","v":4.7,"i":57.6},{"k":"fN","v":5.1,"i":56},{"k":"fN","v":5.3,"i":52.7},{"k":"fN","v":5.45,"i":46.65},{"k":"fN","v":5.55,"i":39.3},{"k":"fN","v":5.63,"i":32.6},{"k":"fN","v":5.7,"i":29.8},{"k":"fN","v":5.77,"i":32.8},{"k":"fN","v":5.85,"i":39.5},{"k":"fN","v":5.95,"i":46.9},{"k":"fN","v":6.1,"i":53},{"k":"fN","v":6.3,"i":56.5},{"k":"fN","v":6.65,"i":58.5},{"k":"fN","v":7.5,"i":59.55},{"k":"fN","v":10,"i":60}
],
"labels":[
{"v":9.36,"i":336,"t":"olivine/forsterite"},
{"v":9.36,"i":275,"t":"pyroxene/augite"},
{"v":9.93,"i":204.5,"t":"pyroxene/enstatite(S)"},
{"v":9.93,"i":136.5,"t":"pyroxene/enstatite(T)"},
{"v":9.34,"i":72,"t":"FeS /reagent"}
]
},
"resolve":{"axis":{"x":"independent","y":"independent"}},
"layer":[
{"data":{"name":"fits"},
 "mark":{"type":"line","strokeWidth":1.1,"clip":true,"interpolate":"monotone"},
 "encoding":{
  "x":{"field":"v","type":"quantitative","scale":{"domain":[-10,10],"nice":false,"zero":false},
   "axis":{"orient":"bottom","values":[-10,-8,-6,-4,-2,0,2,4,6,8,10],"labels":false,"domain":false,"grid":false,"ticks":true,"tickSize":5,"offset":-5,"tickColor":"#444","title":null}},
  "y":{"field":"i","type":"quantitative","scale":{"domain":[0,355],"nice":false,"zero":false},"axis":null},
  "detail":{"field":"k"},
  "color":{"field":"k","type":"nominal","legend":null,
   "scale":{"domain":["ol","au","aA","aB","tT","tA","tB","fG","fN"],"range":["#8b2445","#5a3a1e","#c49a5c","#8c8c8c","#8a5a2b","#a8783e","#8c8c8c","#707070","#3cb496"]}}
 }},
{"data":{"name":"dots"},
 "mark":{"type":"point","filled":true,"size":30,"color":"#111","opacity":1,"strokeWidth":0,"clip":true},
 "encoding":{
  "x":{"field":"v","type":"quantitative","scale":{"domain":[-10,10],"nice":false,"zero":false},
   "axis":{"orient":"bottom","values":[-10,0,10],"ticks":false,"tickSize":0,"domain":false,"grid":false,"labelPadding":17,"labelBaseline":"alphabetic","labelFont":"Liberation Sans","labelFontSize":14,"labelColor":"#222","labelFlush":false,
    "title":"Doppler velocity / mm/s","titleFont":"Liberation Sans","titleFontSize":14,"titleFontWeight":"normal","titleColor":"#333","titleX":154.6,"titleY":31.5,"titleBaseline":"alphabetic","titleAlign":"center"}},
  "y":{"field":"i","type":"quantitative","scale":{"domain":[0,355],"nice":false,"zero":false},
   "axis":{"labels":false,"ticks":false,"domain":false,"grid":false,"title":"Relative intensity / arbitrary unit","titleFont":"Liberation Sans","titleFontSize":14,"titleFontWeight":"normal","titleColor":"#333","titleX":-22,"titleY":170.5,"titleBaseline":"alphabetic","titleAngle":270,"titleAlign":"center"}}
 }},
{"data":{"name":"labels"},
 "mark":{"type":"text","align":"right","baseline":"middle","font":"Liberation Sans","fontSize":14,"color":"#3a3a3a"},
 "encoding":{
  "x":{"field":"v","type":"quantitative","scale":{"domain":[-10,10],"nice":false,"zero":false},
   "axis":{"orient":"top","values":[-10,-8,-6,-4,-2,0,2,4,6,8,10],"labels":false,"domain":false,"grid":false,"ticks":true,"tickSize":5,"offset":-5,"tickColor":"#444","title":null}},
  "y":{"field":"i","type":"quantitative","scale":{"domain":[0,355],"nice":false,"zero":false},"axis":null},
  "text":{"field":"t"}
 }}
]
}
